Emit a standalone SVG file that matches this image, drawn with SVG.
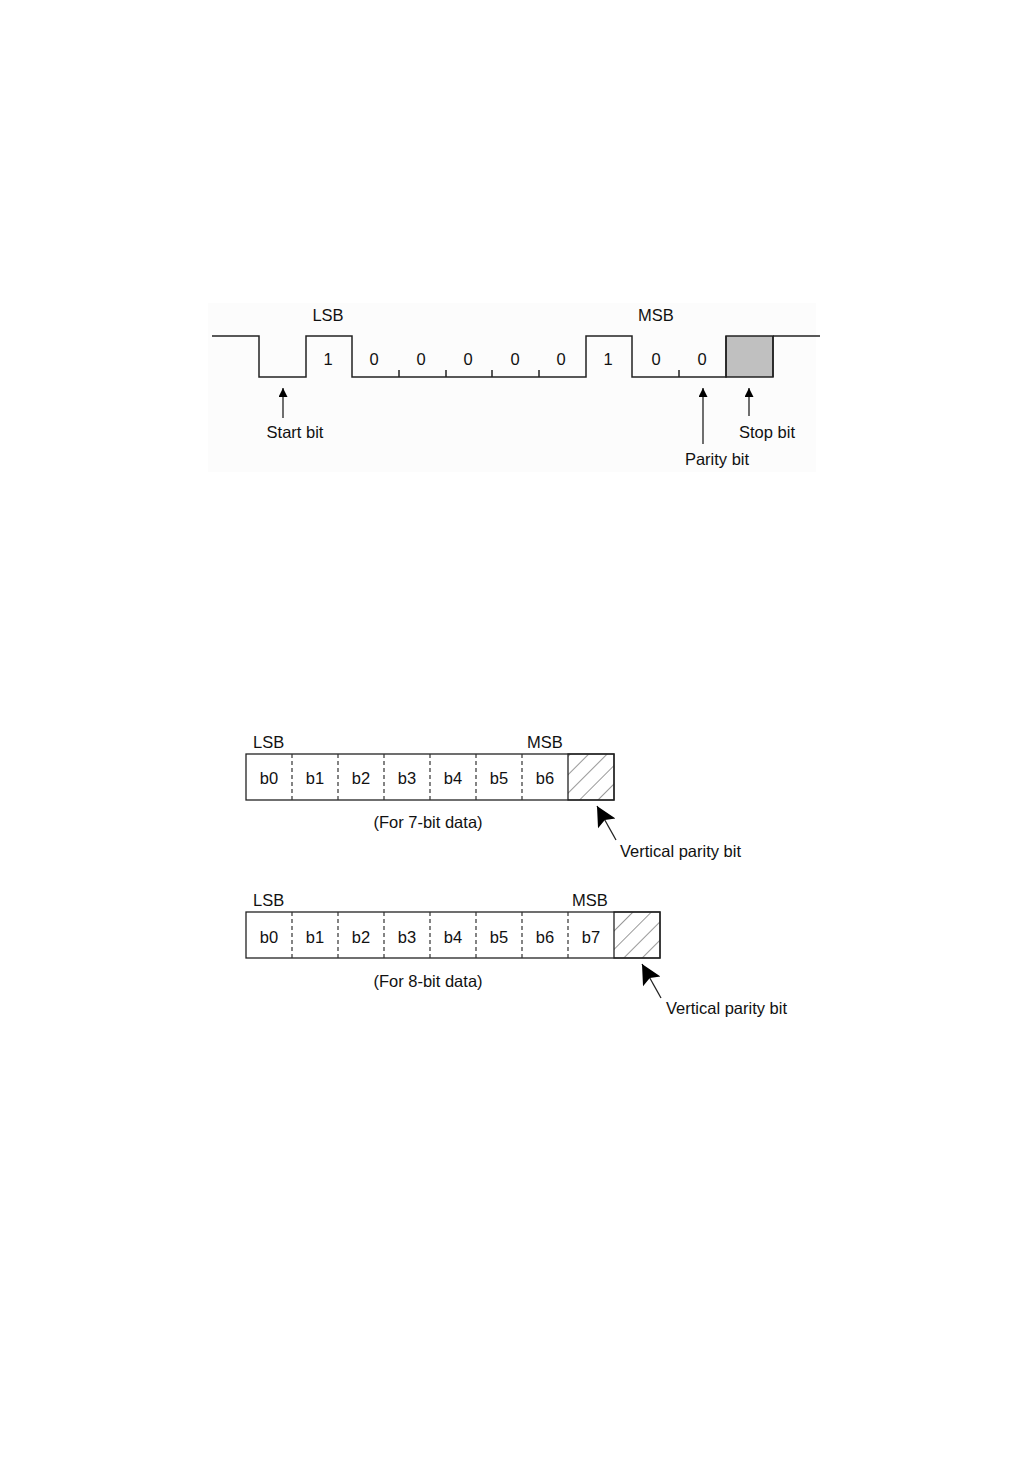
<svg xmlns="http://www.w3.org/2000/svg" width="1032" height="1458" viewBox="0 0 1032 1458">
<defs>
<style>
.t{font-family:"Liberation Sans",Arial,sans-serif;font-size:16.5px;fill:#111}
.m{text-anchor:middle}
.w{fill:none;stroke:#222;stroke-width:1.5}
.box{fill:#fff;stroke:#222;stroke-width:1.3}
.dash{stroke:#333;stroke-width:1.2;stroke-dasharray:4 3}
.ln{stroke:#222;stroke-width:1.3;fill:none}
</style>
<marker id="ah" viewBox="0 0 10 10" refX="10" refY="5" markerWidth="14" markerHeight="9" markerUnits="userSpaceOnUse" orient="auto">
<path d="M0,0 L10,5 L0,10 z" fill="#000"/>
</marker>
<marker id="ahb" viewBox="0 0 10 10" refX="10" refY="5" markerWidth="24" markerHeight="20" markerUnits="userSpaceOnUse" orient="auto">
<path d="M0,0 L10,5 L0,10 L2,5 z" fill="#000"/>
</marker>
<pattern id="hatch" patternUnits="userSpaceOnUse" width="13" height="13" patternTransform="rotate(45)">
<line x1="0" y1="0" x2="0" y2="13" stroke="#333" stroke-width="1"/>
</pattern>
</defs>
<rect width="1032" height="1458" fill="#fff"/>
<rect x="208" y="303" width="608" height="169" fill="#fcfcfc"/>

<g id="waveform">
<rect x="726" y="336" width="47" height="41" fill="#c0c0c0" stroke="#222" stroke-width="1.5"/>
<path class="w" d="M212,336 H259 V377 H306 V336 H352 V377 H586 V336 H632 V377 H726 V336 M773,336 V377 M773,336 H820"/>
<path class="w" d="M399,370 V377 M446,370 V377 M492,370 V377 M539,370 V377 M679,370 V377"/>
<text class="t m" x="328" y="321">LSB</text>
<text class="t m" x="656" y="321">MSB</text>
<text class="t m" x="328" y="365">1</text>
<text class="t m" x="374" y="365">0</text>
<text class="t m" x="421" y="365">0</text>
<text class="t m" x="468" y="365">0</text>
<text class="t m" x="515" y="365">0</text>
<text class="t m" x="561" y="365">0</text>
<text class="t m" x="608" y="365">1</text>
<text class="t m" x="656" y="365">0</text>
<text class="t m" x="702" y="365">0</text>
</g>

<g id="start-bit">
<text class="t m" x="295" y="438">Start bit</text>
</g>
<g id="parity-bit">
<text class="t m" x="717" y="465">Parity bit</text>
</g>
<g id="stop-bit">
<text class="t m" x="767" y="438">Stop bit</text>
</g>

<g id="frame7">
<rect class="box" x="246" y="754" width="368" height="46"/>
<rect x="568" y="754" width="46" height="46" fill="url(#hatch)" stroke="#222" stroke-width="1.3"/>
<path class="dash" d="M292,754 V800 M338,754 V800 M384,754 V800 M430,754 V800 M476,754 V800 M522,754 V800"/>
<text class="t" x="253" y="748">LSB</text>
<text class="t m" x="545" y="748">MSB</text>
<text class="t m" x="269" y="784">b0</text>
<text class="t m" x="315" y="784">b1</text>
<text class="t m" x="361" y="784">b2</text>
<text class="t m" x="407" y="784">b3</text>
<text class="t m" x="453" y="784">b4</text>
<text class="t m" x="499" y="784">b5</text>
<text class="t m" x="545" y="784">b6</text>
<text class="t m" x="428" y="828">(For 7-bit data)</text>
<text class="t" x="620" y="857">Vertical parity bit</text>
</g>

<g id="frame8">
<rect class="box" x="246" y="912" width="414" height="46"/>
<rect x="614" y="912" width="46" height="46" fill="url(#hatch)" stroke="#222" stroke-width="1.3"/>
<path class="dash" d="M292,912 V958 M338,912 V958 M384,912 V958 M430,912 V958 M476,912 V958 M522,912 V958 M568,912 V958"/>
<text class="t" x="253" y="906">LSB</text>
<text class="t m" x="590" y="906">MSB</text>
<text class="t m" x="269" y="943">b0</text>
<text class="t m" x="315" y="943">b1</text>
<text class="t m" x="361" y="943">b2</text>
<text class="t m" x="407" y="943">b3</text>
<text class="t m" x="453" y="943">b4</text>
<text class="t m" x="499" y="943">b5</text>
<text class="t m" x="545" y="943">b6</text>
<text class="t m" x="591" y="943">b7</text>
<text class="t m" x="428" y="987">(For 8-bit data)</text>
<text class="t" x="666" y="1014">Vertical parity bit</text>
</g>

<g id="connectors">
<line class="ln" x1="283" y1="418" x2="283" y2="388" marker-end="url(#ah)"/>
<line class="ln" x1="703" y1="444" x2="703" y2="388" marker-end="url(#ah)"/>
<line class="ln" x1="749" y1="416" x2="749" y2="388" marker-end="url(#ah)"/>
<line class="ln" x1="616" y1="840" x2="597" y2="806" marker-end="url(#ahb)"/>
<line class="ln" x1="661" y1="998" x2="642" y2="964" marker-end="url(#ahb)"/>
</g>
</svg>
